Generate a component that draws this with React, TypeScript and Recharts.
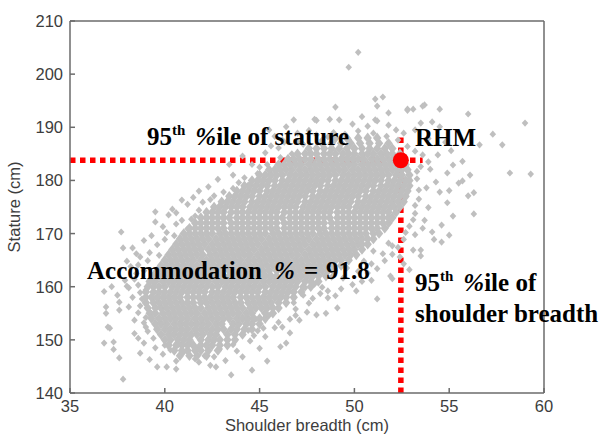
import React from 'react';
import { ScatterChart, Scatter, XAxis, YAxis, ReferenceLine, ReferenceDot } from 'recharts';

// ---- axis ticks ----
const breadthTicks = [35, 40, 45, 50, 55, 60];
const statureTicks = [140, 150, 160, 170, 180, 190, 200, 210];

// ---- RHM (95th percentile of both) ----
const rhmBreadth = 52.45;
const rhmStature = 183.8;
const statureLineEnd = 53.6; // horizontal dotted line runs from x=35 to here
const breadthLineTop = 188.2; // vertical dotted line runs from y=140 to here

// ---- sparse / fringe points [breadth, stature] ----
const sparsePoints: [number, number][] = [
  [50.2, 204.1], [49.7, 201.3], [51.1, 195.3], [51.5, 195.7], [51.2, 194.0], [49.0, 193.8], [51.8, 192.7],
  [52.8, 193.4], [53.1, 193.4], [53.7, 194.2], [54.5, 193.4], [56.0, 192.5], [59.0, 190.8], [57.3, 188.7],
  [57.8, 186.7], [58.2, 181.4], [59.3, 181.2], [47.9, 191.5], [48.7, 191.5], [49.2, 191.4], [51.1, 191.4],
  [54.1, 191.0], [56.6, 186.7], [55.2, 182.9], [52.8, 193.2], [53.6, 194.0], [48.0, 191.3], [46.8, 191.4],
  [46.4, 190.1], [51.2, 191.2], [51.8, 190.4], [52.2, 189.5], [53.2, 189.5], [53.5, 190.8], [54.5, 190.1],
  [46.2, 187.6], [45.5, 189.5], [50.4, 192.0],
  [40.9, 176.3], [41.5, 176.8], [42.3, 178.8], [42.6, 177.1], [43.1, 177.8], [43.6, 181.0], [45.0, 182.5],
  [44.2, 180.5], [43.9, 179.6], [41.2, 175.5], [42.0, 175.9], [40.4, 174.6], [40.6, 173.9], [40.2, 173.5],
  [39.5, 174.1], [39.5, 172.2], [39.9, 171.3], [40.1, 170.2], [39.3, 169.6], [38.9, 168.7], [38.3, 167.3],
  [37.8, 167.3], [37.7, 170.3], [38.7, 165.6], [39.2, 166.4], [39.6, 167.9], [40.0, 168.9], [44.6, 183.0],
  [45.3, 185.2], [46.0, 186.1], [45.8, 188.3], [47.0, 188.9], [47.6, 189.4], [48.3, 187.6], [44.1, 184.6],
  [46.7, 185.0], [43.4, 183.0], [42.8, 180.2], [41.8, 178.0], [42.9, 175.3],
  [45.6, 186.5], [46.3, 187.2], [47.3, 186.8], [48.0, 188.6], [48.9, 189.0], [49.5, 188.7], [50.2, 189.3],
  [51.0, 188.9], [51.7, 188.3], [52.3, 187.6], [52.8, 186.4], [53.2, 185.5], [53.6, 184.8], [50.7, 190.2],
  [49.9, 190.6], [52.6, 188.9],
  [53.5, 182.6], [54.0, 182.1], [54.9, 181.4], [55.5, 179.5], [55.7, 179.9], [54.5, 177.8], [54.9, 175.8],
  [56.3, 177.7], [56.0, 177.1], [56.3, 173.7], [55.2, 173.3], [54.1, 170.3], [54.6, 171.6], [55.0, 169.7],
  [54.6, 168.4], [53.5, 166.9], [53.5, 165.8], [53.1, 166.9], [53.3, 180.3], [53.8, 178.6], [53.4, 176.5],
  [53.9, 174.9], [53.2, 173.8], [53.7, 172.5], [52.9, 171.4], [53.2, 169.8], [52.6, 168.9], [52.3, 167.4],
  [52.0, 166.1], [51.6, 164.9], [52.6, 164.3], [51.2, 163.4], [50.7, 162.6], [51.9, 162.0], [52.0, 161.5],
  [50.4, 161.0], [49.9, 160.4], [49.3, 159.6], [51.2, 157.7], [49.1, 156.0], [48.6, 157.9], [48.5, 155.0],
  [48.0, 154.7], [47.1, 153.7], [46.6, 153.9], [46.2, 152.4], [46.6, 151.3], [46.4, 149.4], [46.1, 148.7],
  [44.6, 144.3], [44.1, 146.8], [47.6, 156.9], [48.2, 158.7], [47.9, 160.5], [48.8, 161.8], [49.6, 163.5],
  [50.5, 164.8], [51.0, 166.7], [51.8, 168.2], [53.9, 183.5], [54.4, 184.8], [55.1, 185.6], [54.8, 187.2],
  [53.9, 187.9], [55.7, 183.6], [56.1, 181.0], [54.3, 179.7], [55.0, 178.1], [53.6, 171.0], [54.2, 168.9],
  [52.9, 163.2], [45.3, 150.6], [45.8, 152.3], [45.0, 148.4], [44.5, 149.8], [43.8, 147.9], [44.8, 153.9],
  [45.5, 154.6], [46.9, 155.8], [47.3, 158.4], [46.8, 157.0], [45.4, 146.0], [43.2, 146.1], [42.7, 144.9],
  [43.5, 143.4], [50.1, 159.2], [49.0, 158.3], [48.3, 159.9], [50.9, 161.2], [52.4, 165.6], [47.5, 155.2],
  [36.9, 156.2], [36.9, 155.0], [37.1, 152.2], [36.8, 149.4], [37.3, 149.6], [37.3, 148.2], [37.6, 146.6],
  [37.8, 142.6], [37.5, 158.4], [38.0, 160.1], [38.1, 156.2], [38.4, 153.7], [38.4, 151.2], [38.7, 147.5],
  [38.9, 149.4], [39.4, 150.3], [39.5, 148.5], [39.6, 144.9], [40.1, 144.9], [39.9, 147.3], [40.6, 144.5],
  [40.6, 146.0], [40.3, 148.1], [41.0, 147.7], [41.3, 149.6], [37.6, 157.1], [37.6, 155.6], [37.0, 152.4],
  [38.6, 160.3], [38.1, 159.8], [38.5, 162.5], [38.2, 163.8], [37.9, 161.2], [38.8, 157.7], [38.6, 155.1],
  [38.3, 158.0], [39.0, 152.4], [38.9, 153.2], [39.2, 146.3], [41.8, 145.8], [42.1, 147.0], [41.6, 146.4],
  [42.4, 145.2], [38.0, 164.8], [38.6, 164.1], [37.2, 160.0], [36.8, 159.1], [39.3, 155.0], [40.0, 149.0],
  [42.9, 148.3], [39.8, 150.9], [39.1, 151.6], [43.6, 149.1], [44.9, 151.7], [45.6, 156.9], [46.2, 158.1],
  [38.7, 158.9], [38.4, 161.4], [38.9, 163.0], [39.1, 164.9], [38.5, 166.2], [39.7, 165.9], [39.0, 159.4],
  [38.7, 156.4], [39.0, 154.2], [38.6, 150.3], [39.6, 152.1], [40.7, 149.1], [41.7, 148.5], [42.6, 146.8],
  [41.2, 170.9], [40.6, 171.8], [41.4, 172.7], [41.8, 174.4], [42.4, 176.4], [43.3, 176.0], [43.6, 178.5],
  [44.4, 179.1], [44.9, 181.3], [45.4, 183.0], [46.1, 184.3], [40.5, 169.6], [40.9, 172.5], [41.6, 173.3],
  [47.8, 157.8], [48.6, 159.2], [49.4, 161.6], [50.2, 162.9], [50.9, 164.3], [51.5, 166.2], [52.0, 167.7],
  [46.9, 154.6], [46.0, 153.3], [45.2, 152.2], [44.7, 150.8], [52.7, 170.2], [53.1, 172.6], [53.2, 175.3],
  [53.4, 178.2], [53.3, 181.7], [47.0, 187.3], [48.6, 188.2], [49.7, 187.7], [44.4, 151.8], [47.4, 159.8]
];

// ---- dense core, one row per stature value ----
const coreStature = [
  147, 148, 149, 150, 151, 152, 153, 154, 155, 156, 157, 158, 159, 160, 161, 162, 163, 164, 165, 166, 167,
  168, 169, 170, 171, 172, 173, 174, 175, 176, 177, 178, 179, 180, 181, 182, 183, 184, 185, 186, 187, 188
];
const coreBreadth: number[][] = [
  [40.8, 41.3, 41.7, 42.2],
  [40.5, 40.9, 41.2, 41.6, 41.9, 42.3, 42.8],
  [40.2, 40.6, 40.9, 41.2, 41.5, 41.9, 42.2, 42.5, 42.9, 43.3],
  [40.0, 40.3, 40.7, 41.0, 41.3, 41.9, 42.3, 42.6, 42.9, 43.3, 43.7],
  [39.8, 40.2, 40.5, 40.8, 41.1, 41.4, 41.7, 42.0, 42.4, 42.7, 43.3, 43.7, 44.1],
  [39.6, 40.0, 40.3, 40.6, 40.9, 41.2, 41.6, 41.9, 42.2, 42.5, 42.8, 43.1, 43.5, 43.8, 44.2, 44.6],
  [39.5, 39.8, 40.1, 40.5, 40.8, 41.1, 41.4, 41.7, 42.0, 42.3, 42.7, 43.0, 43.6, 43.9, 44.3, 44.6, 45.0],
  [39.3, 39.7, 40.0, 40.3, 40.6, 40.9, 41.2, 41.6, 41.9, 42.2, 42.5, 42.8, 43.1, 43.4, 43.8, 44.1, 44.4, 44.7, 45.0, 45.3],
  [39.2, 39.5, 39.9, 40.2, 40.5, 40.8, 41.1, 41.4, 41.7, 42.1, 42.4, 42.7, 43.0, 43.3, 43.6, 43.9, 44.3, 44.6, 45.3, 45.7],
  [39.1, 39.5, 39.8, 40.1, 40.4, 40.7, 41.0, 41.3, 41.6, 41.9, 42.3, 42.6, 42.9, 43.2, 43.5, 43.8, 44.1, 44.5, 44.8, 45.1, 45.4, 45.7, 46.0],
  [39.0, 39.4, 39.7, 40.0, 40.3, 40.6, 40.9, 41.2, 41.5, 41.9, 42.2, 42.5, 42.8, 43.1, 43.4, 43.7, 44.0, 44.4, 44.7, 45.0, 45.3, 45.6, 46.0, 46.4],
  [39.0, 39.3, 39.6, 39.9, 40.2, 40.5, 40.8, 41.2, 41.5, 41.8, 42.1, 42.4, 42.7, 43.0, 43.3, 43.6, 44.0, 44.3, 44.6, 44.9, 45.2, 45.5, 45.8, 46.1, 46.4, 46.8],
  [39.0, 39.4, 39.7, 40.0, 40.3, 40.6, 40.9, 41.2, 41.5, 41.8, 42.1, 42.5, 42.8, 43.1, 43.4, 43.7, 44.0, 44.3, 44.6, 44.9, 45.3, 45.6, 45.9, 46.2, 46.5, 46.8, 47.2],
  [39.1, 39.4, 39.7, 40.0, 40.4, 40.7, 41.0, 41.3, 41.6, 41.9, 42.2, 42.5, 42.8, 43.2, 43.5, 43.8, 44.1, 44.4, 44.7, 45.0, 45.3, 45.7, 46.0, 46.3, 46.6, 46.9, 47.3, 47.7],
  [39.2, 39.5, 39.9, 40.2, 40.5, 40.8, 41.1, 41.4, 41.7, 42.0, 42.3, 42.7, 43.0, 43.3, 43.6, 43.9, 44.2, 44.5, 44.8, 45.2, 45.5, 45.8, 46.1, 46.4, 46.7, 47.0, 47.4, 47.7, 48.1],
  [39.4, 39.7, 40.0, 40.3, 40.6, 40.9, 41.3, 41.6, 41.9, 42.2, 42.5, 42.8, 43.1, 43.4, 43.8, 44.1, 44.4, 44.7, 45.0, 45.3, 45.6, 45.9, 46.3, 46.6, 46.9, 47.2, 47.5, 47.8, 48.1, 48.5],
  [39.6, 39.9, 40.2, 40.5, 40.9, 41.2, 41.5, 41.8, 42.1, 42.4, 42.7, 43.0, 43.4, 43.7, 44.0, 44.3, 44.6, 44.9, 45.2, 45.5, 45.9, 46.2, 46.5, 46.8, 47.1, 47.4, 47.7, 48.0, 48.3, 48.6, 48.9],
  [39.8, 40.1, 40.4, 40.7, 41.0, 41.4, 41.7, 42.0, 42.3, 42.6, 42.9, 43.2, 43.5, 43.9, 44.2, 44.5, 44.8, 45.1, 45.4, 45.7, 46.0, 46.4, 46.7, 47.0, 47.3, 47.6, 47.9, 48.2, 48.5, 48.9, 49.3],
  [40.0, 40.3, 40.6, 40.9, 41.2, 41.5, 41.9, 42.2, 42.5, 42.8, 43.1, 43.4, 43.7, 44.0, 44.4, 44.7, 45.0, 45.3, 45.6, 45.9, 46.2, 46.5, 46.9, 47.2, 47.5, 47.8, 48.1, 48.4, 48.7, 49.0, 49.3, 49.7],
  [40.2, 40.5, 40.8, 41.1, 41.4, 41.7, 42.0, 42.4, 42.7, 43.0, 43.3, 43.6, 43.9, 44.2, 44.5, 44.9, 45.2, 45.5, 45.8, 46.1, 46.4, 46.7, 47.0, 47.4, 47.7, 48.0, 48.3, 48.6, 48.9, 49.2, 49.5, 49.8, 50.1],
  [40.4, 40.7, 41.0, 41.3, 41.6, 41.9, 42.3, 42.6, 42.9, 43.2, 43.5, 43.8, 44.1, 44.4, 44.7, 45.1, 45.4, 45.7, 46.0, 46.3, 46.6, 46.9, 47.2, 47.6, 47.9, 48.2, 48.5, 48.8, 49.1, 49.4, 49.7, 50.0, 50.4],
  [40.6, 40.9, 41.2, 41.5, 41.8, 42.1, 42.5, 42.8, 43.1, 43.4, 43.7, 44.0, 44.3, 44.6, 44.9, 45.3, 45.6, 45.9, 46.2, 46.5, 46.8, 47.1, 47.4, 47.8, 48.1, 48.4, 48.7, 49.0, 49.3, 49.6, 49.9, 50.2, 50.4, 50.7],
  [40.8, 41.1, 41.4, 41.7, 42.0, 42.3, 42.7, 43.0, 43.3, 43.6, 43.9, 44.2, 44.5, 44.8, 45.1, 45.5, 45.8, 46.1, 46.4, 46.7, 47.0, 47.3, 47.6, 48.0, 48.3, 48.6, 48.9, 49.2, 49.5, 49.8, 50.1, 50.4, 50.7, 51.0],
  [41.0, 41.3, 41.6, 41.9, 42.2, 42.5, 42.9, 43.2, 43.5, 43.8, 44.1, 44.4, 44.7, 45.0, 45.3, 45.7, 46.0, 46.3, 46.6, 46.9, 47.2, 47.5, 47.8, 48.2, 48.5, 48.8, 49.1, 49.4, 49.7, 50.0, 50.3, 50.6, 51.0, 51.3],
  [41.3, 41.6, 41.9, 42.2, 42.5, 42.8, 43.1, 43.5, 43.8, 44.1, 44.4, 44.7, 45.0, 45.3, 45.6, 45.9, 46.3, 46.6, 46.9, 47.2, 47.5, 47.8, 48.1, 48.4, 48.8, 49.1, 49.4, 49.7, 50.0, 50.3, 50.6, 50.9, 51.2, 51.6],
  [41.6, 41.9, 42.2, 42.5, 42.8, 43.1, 43.5, 43.8, 44.1, 44.4, 44.7, 45.0, 45.3, 45.6, 45.9, 46.3, 46.6, 46.9, 47.2, 47.5, 47.8, 48.1, 48.4, 48.8, 49.1, 49.4, 49.7, 50.0, 50.3, 50.6, 50.9, 51.2, 51.5, 51.8],
  [41.9, 42.2, 42.5, 42.8, 43.1, 43.4, 43.8, 44.1, 44.4, 44.7, 45.0, 45.3, 45.6, 45.9, 46.2, 46.6, 46.9, 47.2, 47.5, 47.8, 48.1, 48.4, 48.7, 49.1, 49.4, 49.7, 50.0, 50.3, 50.6, 50.9, 51.2, 51.5, 51.8, 52.0],
  [42.2, 42.5, 42.8, 43.1, 43.5, 43.8, 44.1, 44.4, 44.7, 45.0, 45.3, 45.6, 45.9, 46.3, 46.6, 46.9, 47.2, 47.5, 47.8, 48.1, 48.4, 48.7, 49.1, 49.4, 49.7, 50.0, 50.3, 50.6, 50.9, 51.2, 51.5, 51.8, 52.2],
  [42.6, 42.9, 43.2, 43.5, 43.8, 44.1, 44.5, 44.8, 45.1, 45.4, 45.7, 46.0, 46.3, 46.6, 46.9, 47.3, 47.6, 47.9, 48.2, 48.5, 48.8, 49.1, 49.4, 49.7, 50.1, 50.4, 50.7, 51.0, 51.3, 51.6, 51.9, 52.1, 52.4],
  [43.0, 43.3, 43.6, 43.9, 44.2, 44.6, 44.9, 45.2, 45.5, 45.8, 46.1, 46.4, 46.7, 47.0, 47.4, 47.7, 48.0, 48.3, 48.6, 48.9, 49.2, 49.5, 49.8, 50.2, 50.5, 50.8, 51.1, 51.4, 51.7, 52.0, 52.3, 52.6],
  [43.4, 43.7, 44.0, 44.3, 44.6, 45.0, 45.3, 45.6, 45.9, 46.2, 46.5, 46.8, 47.1, 47.4, 47.8, 48.1, 48.4, 48.7, 49.0, 49.3, 49.6, 49.9, 50.2, 50.6, 50.9, 51.2, 51.5, 51.8, 52.1, 52.4, 52.7],
  [43.8, 44.1, 44.4, 44.7, 45.0, 45.4, 45.7, 46.0, 46.3, 46.6, 46.9, 47.2, 47.5, 47.8, 48.2, 48.5, 48.8, 49.1, 49.4, 49.7, 50.0, 50.3, 50.6, 51.0, 51.3, 51.6, 51.9, 52.2, 52.5, 52.8],
  [44.2, 44.5, 44.8, 45.1, 45.4, 45.8, 46.1, 46.4, 46.7, 47.0, 47.3, 47.6, 47.9, 48.2, 48.6, 48.9, 49.2, 49.5, 49.8, 50.1, 50.4, 50.7, 51.0, 51.4, 51.7, 52.0, 52.3, 52.6, 52.9],
  [44.6, 44.9, 45.2, 45.5, 45.8, 46.2, 46.5, 46.8, 47.1, 47.4, 47.7, 48.0, 48.3, 48.6, 49.0, 49.3, 49.6, 49.9, 50.2, 50.5, 50.8, 51.1, 51.4, 51.8, 52.1, 52.4, 52.7, 52.9],
  [45.0, 45.3, 45.6, 45.9, 46.2, 46.6, 46.9, 47.2, 47.5, 47.8, 48.1, 48.4, 48.7, 49.0, 49.4, 49.7, 50.0, 50.3, 50.6, 50.9, 51.2, 51.5, 51.8, 52.2, 52.5, 52.9],
  [45.5, 45.8, 46.1, 46.4, 46.7, 47.1, 47.4, 47.7, 48.0, 48.3, 48.6, 48.9, 49.2, 49.5, 49.9, 50.2, 50.5, 50.8, 51.1, 51.4, 51.7, 52.0, 52.3, 52.5, 52.8],
  [46.0, 46.3, 46.6, 46.9, 47.2, 47.6, 47.9, 48.2, 48.5, 48.8, 49.1, 49.4, 49.7, 50.0, 50.4, 50.7, 51.0, 51.3, 51.6, 51.9, 52.2, 52.5, 52.7],
  [46.5, 46.8, 47.1, 47.4, 47.7, 48.1, 48.4, 48.7, 49.0, 49.3, 49.6, 49.9, 50.2, 50.5, 50.9, 51.2, 51.5, 51.8, 52.1, 52.4, 52.6],
  [47.0, 47.4, 47.7, 48.0, 48.4, 48.7, 49.0, 49.4, 49.7, 50.0, 50.4, 50.7, 51.0, 51.4, 51.7, 52.0, 52.4],
  [47.6, 48.0, 48.4, 48.8, 49.2, 49.6, 50.0, 50.4, 50.8, 51.2, 51.6, 52.0],
  [48.3, 48.8, 49.3, 49.8, 50.3, 50.8, 51.3, 51.8],
  [49.0, 49.6, 50.2, 50.7, 51.2]
];

// build the scatter tables from the arrays above
const coreData = coreStature.flatMap((s, i) =>
  coreBreadth[i].map((b) => ({ breadth: b, stature: s }))
);
const sparseData = sparsePoints.map(([b, s]) => ({ breadth: b, stature: s }));

const AXIS = '#6b6b6b';
const TXT = '#3d3d3d';
const SANS = '"Liberation Sans", Arial, sans-serif';
const SERIF = '"Liberation Serif", "Times New Roman", serif';
const TICK_FS = 16.5;
const DOT = '#bfbfbf';

const makeDiamond = (hw: number, hh: number) => (props: any) => {
  const { cx, cy } = props;
  if (cx == null || cy == null) return null;
  return (
    <path d={`M${cx},${cy - hh}L${cx + hw},${cy}L${cx},${cy + hh}L${cx - hw},${cy}Z`} fill={DOT} />
  );
};
const SmallDiamond = makeDiamond(3.3, 3.6);
const CoreDiamond = makeDiamond(4.2, 5.3);

const LeftTick = (props: any) => {
  const { x, y, payload } = props;
  return (
    <g>
      <line x1={x} x2={x + 5} y1={y} y2={y} stroke={AXIS} strokeWidth={1.5} />
      <text x={x - 7} y={y} dy={6} textAnchor="end" fontFamily={SANS} fontSize={TICK_FS} fill={TXT}>
        {payload.value}
      </text>
    </g>
  );
};
const BottomTick = (props: any) => {
  const { x, y, payload } = props;
  return (
    <g>
      <line x1={x} x2={x} y1={y} y2={y - 5} stroke={AXIS} strokeWidth={1.5} />
      <text x={x} y={y + 19} textAnchor="middle" fontFamily={SANS} fontSize={TICK_FS} fill={TXT}>
        {payload.value}
      </text>
    </g>
  );
};
const TopTick = (props: any) => {
  const { x, y } = props;
  return <line x1={x} x2={x} y1={y} y2={y + 5} stroke={AXIS} strokeWidth={1.5} />;
};
const RightTick = (props: any) => {
  const { x, y } = props;
  return <line x1={x} x2={x - 5} y1={y} y2={y} stroke={AXIS} strokeWidth={1.5} />;
};

const axisLine = { stroke: AXIS, strokeWidth: 1.5 };

export default function App() {
  return (
    <div style={{ position: 'absolute', left: 0, top: 0, width: 605, height: 438, background: '#fff' }}>
      <ScatterChart width={605} height={438} margin={{ top: 20, right: 60, bottom: 15, left: 20 }}>
        <XAxis
          xAxisId="b"
          dataKey="breadth"
          type="number"
          domain={[35, 60]}
          ticks={breadthTicks}
          allowDataOverflow
          height={30}
          axisLine={axisLine}
          tickLine={false}
          tickSize={0}
          tickMargin={0}
          tick={BottomTick}
          interval={0}
        />
        <XAxis
          xAxisId="t"
          orientation="top"
          type="number"
          domain={[35, 60]}
          ticks={breadthTicks}
          height={1}
          axisLine={axisLine}
          tickLine={false}
          tickSize={0}
          tickMargin={0}
          tick={TopTick}
          interval={0}
        />
        <YAxis
          yAxisId="l"
          dataKey="stature"
          type="number"
          domain={[140, 210]}
          ticks={statureTicks}
          allowDataOverflow
          width={50}
          axisLine={axisLine}
          tickLine={false}
          tickSize={0}
          tickMargin={0}
          tick={LeftTick}
          interval={0}
        />
        <YAxis
          yAxisId="r"
          orientation="right"
          type="number"
          domain={[140, 210]}
          ticks={statureTicks}
          width={1}
          axisLine={axisLine}
          tickLine={false}
          tickSize={0}
          tickMargin={0}
          tick={RightTick}
          interval={0}
        />
        <Scatter xAxisId="b" yAxisId="l" data={sparseData} shape={SmallDiamond} isAnimationActive={false} />
        <Scatter xAxisId="b" yAxisId="l" data={coreData} shape={CoreDiamond} isAnimationActive={false} />
        <ReferenceLine
          xAxisId="b"
          yAxisId="l"
          segment={[
            { x: 35, y: rhmStature },
            { x: statureLineEnd, y: rhmStature }
          ]}
          stroke="#ff0000"
          strokeWidth={5.5}
          strokeDasharray="5.5 4.5"
        />
        <ReferenceLine
          xAxisId="b"
          yAxisId="l"
          segment={[
            { x: rhmBreadth, y: 140 },
            { x: rhmBreadth, y: breadthLineTop }
          ]}
          stroke="#ff0000"
          strokeWidth={5.5}
          strokeDasharray="5.5 4.5"
        />
        <ReferenceDot
          xAxisId="b"
          yAxisId="l"
          x={rhmBreadth}
          y={rhmStature}
          r={8}
          fill="#ff0000"
          stroke="none"
        />
      </ScatterChart>
      <svg
        width={605}
        height={438}
        style={{ position: 'absolute', left: 0, top: 0, pointerEvents: 'none' }}
      >
        <text x={307} y={431} textAnchor="middle" fontFamily={SANS} fontSize={16.5} fill={TXT}>
          Shoulder breadth (cm)
        </text>
        <text
          x={0}
          y={0}
          transform="translate(20,207) rotate(-90)"
          textAnchor="middle"
          fontFamily={SANS}
          fontSize={16.5}
          fill={TXT}
        >
          Stature (cm)
        </text>
        <g fontFamily={SERIF} fontWeight="bold" fontSize={25} fill="#000">
          <text x={147} y={145}>
            95<tspan fontSize={15} dy={-10}>th</tspan>
            <tspan dy={10} dx={10} fontStyle="italic">%</tspan>
            <tspan>ile of stature</tspan>
          </text>
          <text x={415} y={146}>RHM</text>
          <text y={279}>
            <tspan x={87}>Accommodation</tspan>
            <tspan x={274} fontStyle="italic">%</tspan>
            <tspan x={304}>=</tspan>
            <tspan x={326}>91.8</tspan>
          </text>
          <text x={415} y={291}>
            95<tspan fontSize={15} dy={-10}>th</tspan>
            <tspan dy={10} dx={10} fontStyle="italic">%</tspan>
            <tspan>ile of</tspan>
          </text>
          <text x={415} y={322}>shoulder breadth</text>
        </g>
      </svg>
    </div>
  );
}
